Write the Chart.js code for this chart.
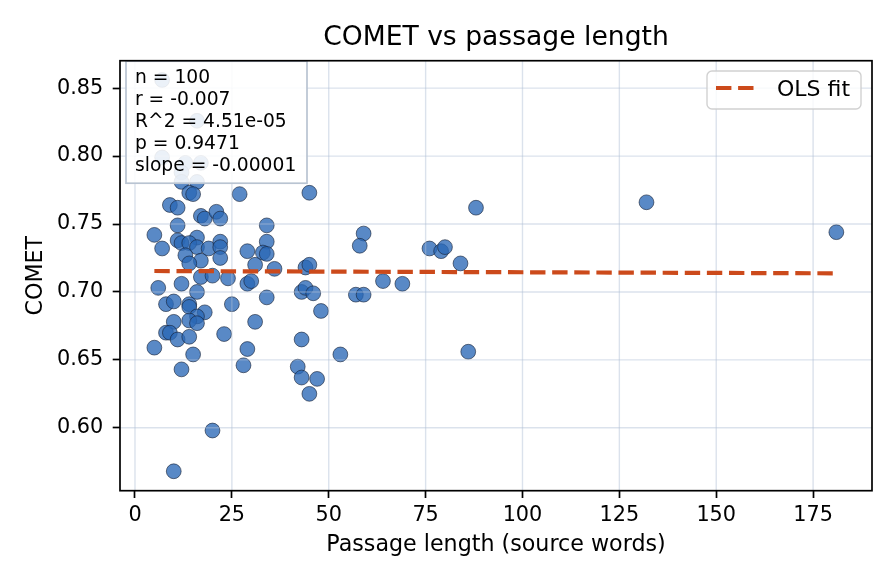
<!DOCTYPE html>
<html>
<head>
<meta charset="utf-8">
<script src="https://cdn.jsdelivr.net/npm/chart.js@4.4.0/dist/chart.umd.min.js"></script>
<style>
  html, body { margin: 0; padding: 0; background: #fff; }
  #wrap { width: 896px; height: 584px; }
</style>
</head>
<body>
<div id="wrap"><canvas id="chart" width="896" height="584"></canvas></div>
<script>
// passage length (source words) and COMET score
const passageLen = [
  7, 16, 7, 13, 17, 12, 12, 16, 14, 15,
  27, 45, 9, 11, 17, 18, 21, 22, 11, 34,
  5, 16, 11, 12, 14, 7, 16, 19, 22, 22,
  29, 34, 33, 34, 13, 17, 22, 14, 17, 20,
  24, 31, 36, 6, 12, 16, 29, 30, 8, 10,
  14, 14, 18, 16, 25, 10, 14, 16, 8, 9,
  11, 14, 23, 5, 15, 12, 29, 28, 31, 34,
  43, 44, 46, 48, 43, 42, 43, 47, 45, 44,
  45, 53, 20, 10, 59, 58, 64, 69, 57, 59,
  76, 79, 80, 84, 88, 86, 132, 181
];
const comet = [
  0.856, 0.826, 0.799, 0.795, 0.795, 0.788, 0.781, 0.781, 0.773, 0.772,
  0.772, 0.773, 0.764, 0.762, 0.756, 0.754, 0.759, 0.754, 0.749, 0.749,
  0.742, 0.740, 0.738, 0.736, 0.736, 0.732, 0.733, 0.732, 0.737, 0.733,
  0.730, 0.737, 0.729, 0.728, 0.727, 0.723, 0.725, 0.721, 0.711, 0.712,
  0.710, 0.720, 0.717, 0.703, 0.706, 0.700, 0.706, 0.708, 0.691, 0.693,
  0.691, 0.689, 0.685, 0.682, 0.691, 0.678, 0.679, 0.677, 0.670, 0.670,
  0.665, 0.667, 0.669, 0.659, 0.654, 0.643, 0.658, 0.646, 0.678, 0.696,
  0.700, 0.703, 0.699, 0.686, 0.665, 0.645, 0.637, 0.636, 0.625, 0.718,
  0.720, 0.654, 0.598, 0.568, 0.743, 0.734, 0.708, 0.706, 0.698, 0.698,
  0.732, 0.730, 0.733, 0.721, 0.762, 0.656, 0.766, 0.744
];

// OLS fit line end points
const fitX = [5, 181];
const fitY = [0.7154, 0.7137];

const xTicks = [0, 25, 50, 75, 100, 125, 150, 175];
const yTicks = [0.60, 0.65, 0.70, 0.75, 0.80, 0.85];

const statsLines = ['n = 100', 'r = -0.007', 'R^2 = 4.51e-05', 'p = 0.9471', 'slope = -0.00001'];
const legendLabel = 'OLS fit';

const FONT = "'DejaVu Sans', 'Liberation Sans', sans-serif";
const fitColor = '#cc4a1b';
const gridColor = 'rgba(176, 190, 212, 0.45)';

Chart.defaults.font.family = FONT;
Chart.defaults.color = '#000';

// grid on top of the dots, text boxes and spines
const overlay = {
  id: 'overlay',
  afterDatasetDraw(chart, args) {
    if (args.index !== 0) return;
    const { ctx, chartArea: a, scales: { x, y } } = chart;
    ctx.save();
    ctx.beginPath();
    ctx.rect(a.left, a.top, a.right - a.left, a.bottom - a.top);
    ctx.clip();
    ctx.strokeStyle = gridColor;
    ctx.lineWidth = 1.4;
    x.ticks.forEach(t => {
      const px = x.getPixelForValue(t.value);
      ctx.beginPath(); ctx.moveTo(px, a.top); ctx.lineTo(px, a.bottom); ctx.stroke();
    });
    y.ticks.forEach(t => {
      const py = y.getPixelForValue(t.value);
      ctx.beginPath(); ctx.moveTo(a.left, py); ctx.lineTo(a.right, py); ctx.stroke();
    });
    ctx.restore();
  },
  afterDraw(chart) {
    const { ctx, chartArea: a } = chart;
    ctx.save();

    // stats box, top left
    ctx.fillStyle = 'rgba(255,255,255,0.88)';
    ctx.strokeStyle = '#b9c4d2';
    ctx.lineWidth = 1.7;
    ctx.fillRect(a.left + 6, a.top + 0.5, 181, 122);
    ctx.strokeRect(a.left + 6, a.top + 0.5, 181, 122);
    ctx.fillStyle = '#000';
    ctx.font = '18.7px ' + FONT;
    ctx.textBaseline = 'alphabetic';
    statsLines.forEach((s, i) => ctx.fillText(s, a.left + 15, a.top + 22.5 + i * 21.9));

    // legend, top right
    const lx = 707, ly = 71, lw = 154, lh = 38;
    ctx.beginPath();
    ctx.roundRect(lx, ly, lw, lh, 5);
    ctx.fillStyle = 'rgba(255,255,255,0.8)';
    ctx.fill();
    ctx.strokeStyle = 'rgba(204,204,204,0.9)';
    ctx.lineWidth = 1.4;
    ctx.stroke();
    ctx.beginPath();
    ctx.setLineDash([15.4, 6.7]);
    ctx.strokeStyle = fitColor;
    ctx.lineWidth = 4.2;
    ctx.moveTo(716, 88); ctx.lineTo(754, 88);
    ctx.stroke();
    ctx.setLineDash([]);
    ctx.fillStyle = '#000';
    ctx.font = '22px ' + FONT;
    ctx.fillText(legendLabel, 777, 96);

    // spines
    ctx.strokeStyle = '#000';
    ctx.lineWidth = 1.7;
    ctx.strokeRect(a.left, a.top, a.right - a.left, a.bottom - a.top);
    ctx.restore();
  }
};

new Chart(document.getElementById('chart'), {
  type: 'scatter',
  data: {
    datasets: [
      {
        label: 'passages',
        data: passageLen.map((v, i) => ({ x: v, y: comet[i] })),
        backgroundColor: 'rgba(42, 104, 182, 0.78)',
        borderColor: 'rgba(20, 30, 50, 0.75)',
        borderWidth: 0.8,
        pointRadius: 7.4,
        order: 1
      },
      {
        label: legendLabel,
        data: fitX.map((v, i) => ({ x: v, y: fitY[i] })),
        showLine: true,
        borderColor: fitColor,
        borderWidth: 4.2,
        borderDash: [15.4, 6.7],
        pointRadius: 0,
        order: 0
      }
    ]
  },
  options: {
    responsive: false,
    animation: false,
    events: [],
    layout: { padding: { left: 0, right: 24, top: 0, bottom: 0 } },
    plugins: {
      legend: { display: false },
      tooltip: { enabled: false },
      title: {
        display: true,
        text: 'COMET vs passage length',
        fullSize: false,
        color: '#000',
        font: { size: 26.6, weight: 'normal' },
        padding: { top: 22, bottom: 6.8 }
      }
    },
    scales: {
      x: {
        type: 'linear',
        min: -3.87,
        max: 190.2,
        afterBuildTicks: s => { s.ticks = xTicks.map(v => ({ value: v })); },
        afterFit: s => { s.height = 93.3; },
        ticks: { font: { size: 20.8 }, color: '#000', padding: 5, maxRotation: 0,
                 callback: v => String(v) },
        grid: { drawOnChartArea: false, tickColor: '#000', tickLength: 7.3, tickWidth: 1.7 },
        border: { display: false },
        title: { display: true, text: 'Passage length (source words)', color: '#000',
                 font: { size: 22.2 }, padding: { top: 0, bottom: 25.2 } }
      },
      y: {
        type: 'linear',
        min: 0.5537,
        max: 0.8702,
        afterBuildTicks: s => { s.ticks = yTicks.map(v => ({ value: v })); },
        afterFit: s => { s.width = 120; },
        ticks: { font: { size: 20.8 }, color: '#000', padding: 9.5,
                 callback: v => v.toFixed(2) },
        grid: { drawOnChartArea: false, tickColor: '#000', tickLength: 7.3, tickWidth: 1.7 },
        border: { display: false },
        title: { display: true, text: 'COMET', color: '#000',
                 font: { size: 22.2 }, padding: { top: 22.5, bottom: 0 } }
      }
    }
  },
  plugins: [overlay]
});
</script>
</body>
</html>
